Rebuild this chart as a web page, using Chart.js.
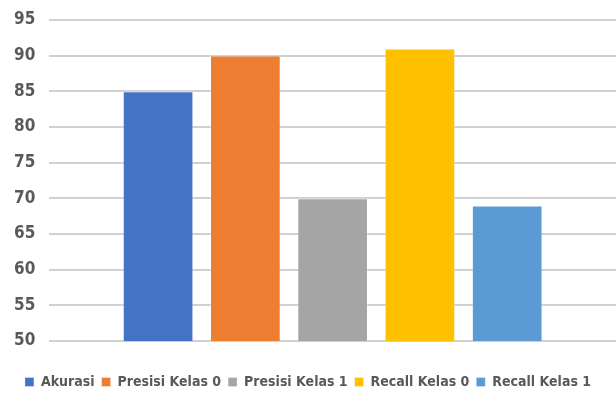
<!DOCTYPE html>
<html>
<head>
<meta charset="utf-8">
<script src="https://cdn.jsdelivr.net/npm/chart.js@4/dist/chart.umd.min.js"></script>
<style>
  body { margin: 0; background: #fff; }
  #wrap { width: 616px; height: 394px; }
</style>
</head>
<body>
<div id="wrap"><canvas id="myChart"></canvas></div>
<script>
const labels = [''];

const seriesNames = ['Akurasi', 'Presisi Kelas 0', 'Presisi Kelas 1', 'Recall Kelas 0', 'Recall Kelas 1'];
const seriesValues = [85, 90, 70, 91, 69];
const seriesColors = ['#4472C4', '#ED7D31', '#A5A5A5', '#FFC000', '#5B9BD5'];

const yTicks = [50, 55, 60, 65, 70, 75, 80, 85, 90, 95];

const fontFamily = "'DejaVu Sans Condensed', 'Liberation Sans Narrow', 'Liberation Sans', sans-serif";

// push the legend items down a bit, away from the plot
const legendShift = {
    id: 'legendShift',
    afterLayout(chart) {
        chart.legend.top += 27;
        chart.legend.bottom += 27;
    }
};

const data = {
    labels: labels,
    datasets: seriesNames.map((name, i) => ({
        label: name,
        data: [seriesValues[i]],
        backgroundColor: seriesColors[i],
        borderColor: 'rgba(255,255,255,0.35)',
        borderWidth: 1,
        categoryPercentage: 0.77,
        barPercentage: 0.81
    }))
};

const config = {
    type: 'bar',
    data: data,
    plugins: [legendShift],
    options: {
        responsive: true,
        maintainAspectRatio: false,
        animation: false,
        layout: { padding: { top: 0, right: 0, left: 0, bottom: 22 } },
        plugins: {
            legend: {
                position: 'bottom',
                labels: {
                    boxWidth: 9,
                    boxHeight: 9,
                    padding: 7,
                    color: '#595959',
                    font: { family: fontFamily, size: 14, weight: 'bold' }
                }
            },
            tooltip: { enabled: false }
        },
        scales: {
            x: {
                display: false
            },
            y: {
                min: yTicks[0],
                max: yTicks[yTicks.length - 1],
                afterBuildTicks: axis => { axis.ticks = yTicks.map(v => ({ value: v })); },
                grid: { color: '#D0D0D0', lineWidth: 2, drawTicks: false },
                border: { display: false },
                ticks: {
                    padding: 14,
                    color: '#595959',
                    font: { family: fontFamily, size: 17, weight: 'bold', lineHeight: 0.7 }
                }
            }
        }
    }
};

new Chart(document.getElementById('myChart'), config);
</script>
</body>
</html>
